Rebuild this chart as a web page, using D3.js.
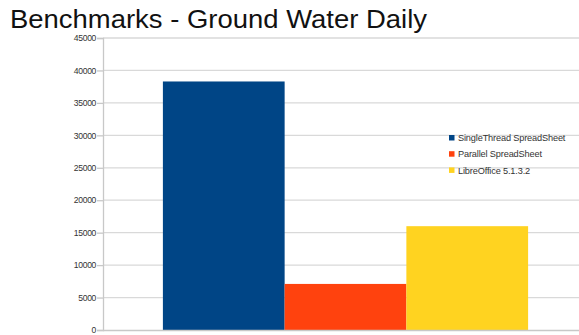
<!DOCTYPE html>
<html>
<head>
<meta charset="utf-8">
<script src="https://cdn.jsdelivr.net/npm/d3@7"></script>
<style>
  html, body { margin: 0; padding: 0; background: #fff; }
  svg { display: block; }
</style>
</head>
<body>
<svg id="chart" width="579" height="335"></svg>
<script>
const title = "Benchmarks - Ground Water Daily";
const categories = [""];
const seriesNames = ["SingleThread SpreadSheet", "Parallel SpreadSheet", "LibreOffice 5.1.3.2"];
const seriesValues = [38300, 7100, 16000];
const seriesColors = ["#004586", "#ff420e", "#ffd320"];
const yTicks = [0, 5000, 10000, 15000, 20000, 25000, 30000, 35000, 40000, 45000];

(function () {
const svg = d3.select("#chart");
const W = 579, H = 335;
const pLeft = 103, pRight = 588, pTop = 38, pBottom = 330;

svg.append("rect").attr("width", W).attr("height", H).attr("fill", "#fff");

const y = d3.scaleLinear().domain([0, 45000]).range([pBottom, pTop]);
const x0 = d3.scaleBand().domain(categories).range([pLeft, pRight]).paddingInner(0).paddingOuter(0.164);
const x1 = d3.scaleBand().domain(seriesNames).range([0, x0.bandwidth()]).padding(0);

// gridlines
svg.append("g").selectAll("line").data(yTicks.filter(d => d > 0)).join("line")
  .attr("x1", pLeft).attr("x2", W)
  .attr("y1", d => y(d)).attr("y2", d => y(d))
  .attr("stroke", "#d9d9d9").attr("stroke-width", 1.3);

// y axis
const yAxis = d3.axisLeft(y).tickValues(yTicks).tickSize(6).tickPadding(1).tickFormat(d3.format("d"));
const ga = svg.append("g").attr("transform", `translate(${pLeft},0)`).call(yAxis);
ga.select(".domain").attr("stroke", "#c8c8c8").attr("stroke-width", 1.3);
ga.selectAll(".tick line").attr("stroke", "#c8c8c8").attr("stroke-width", 1.3);
ga.selectAll(".tick text")
  .attr("font-family", "Liberation Sans, Arial, sans-serif")
  .attr("font-size", 8.6).attr("letter-spacing", -0.35).attr("fill", "#333");

// bars
const groups = svg.append("g").selectAll("g").data(categories).join("g")
  .attr("transform", d => `translate(${x0(d)},0)`);
groups.selectAll("rect").data(() => seriesNames.map((n, i) => ({n, v: seriesValues[i], c: seriesColors[i]})))
  .join("rect")
  .attr("x", d => x1(d.n))
  .attr("width", x1.bandwidth())
  .attr("y", d => y(d.v))
  .attr("height", d => y(0) - y(d.v))
  .attr("fill", d => d.c);

// x axis baseline
svg.append("line").attr("x1", pLeft).attr("x2", W).attr("y1", y(0) + 0.5).attr("y2", y(0) + 0.5)
  .attr("stroke", "#c8c8c8").attr("stroke-width", 1.3);

// legend
const lg = svg.append("g").attr("transform", "translate(449,138)");
const items = lg.selectAll("g").data(seriesNames).join("g")
  .attr("transform", (d, i) => `translate(0,${i * 16.2})`);
items.append("rect").attr("x", 0).attr("y", -3).attr("width", 5.5).attr("height", 5.5)
  .attr("fill", (d, i) => seriesColors[i]);
items.append("text").attr("x", 9).attr("y", 0).attr("dy", "0.35em")
  .attr("font-family", "Liberation Sans, Arial, sans-serif")
  .attr("font-size", 9.2).attr("letter-spacing", -0.15).attr("fill", "#333")
  .text(d => d);

// title
svg.append("text").attr("x", 10).attr("y", 28)
  .attr("font-family", "Liberation Sans, Arial, sans-serif")
  .attr("font-size", 25).attr("fill", "#111")
  .attr("textLength", 417).attr("lengthAdjust", "spacingAndGlyphs")
  .text(title);
})();
</script>
</body>
</html>
